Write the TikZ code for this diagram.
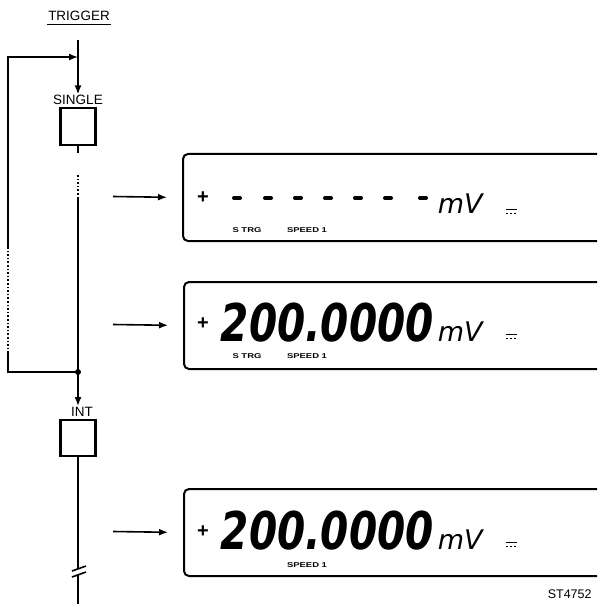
\documentclass[tikz,border=0pt]{standalone}
\usepackage{fontspec}
\setmainfont{Liberation Sans}
\newfontfamily\lcdfont{DejaVu Sans}[FakeStretch=0.78]
\newfontfamily\unitfont{DejaVu Sans}
\newfontfamily\annfont{Liberation Sans}[FakeStretch=1.35]
\usetikzlibrary{arrows.meta}

\begin{document}
\begin{tikzpicture}[x=1pt, y=-1pt, line width=1.6pt,
  feed/.style={-{Latex[length=9pt,width=7pt]}},
  keybox/.style={draw, line width=2.2pt, minimum width=35pt, minimum height=37pt, inner sep=0pt},
  keylbl/.style={font=\fontsize{13.5}{14}\selectfont, inner sep=0pt},
  display/.style={draw, line width=2pt, rounded corners=5pt, minimum width=460pt, minimum height=87pt, inner sep=0pt, anchor=north west},
  sign/.style={font=\fontsize{20}{20}\selectfont\bfseries, inner sep=0pt},
  digits/.style={font=\lcdfont\fontsize{52}{52}\selectfont\bfseries\itshape, inner sep=0pt, anchor=base west},
  unit/.style={font=\unitfont\fontsize{27}{27}\selectfont\itshape, inner sep=0pt, anchor=base west},
  annun/.style={font=\annfont\fontsize{7}{7}\selectfont\bfseries, inner sep=0pt}]
  \useasboundingbox (0,0) rectangle (597,604);
  \clip (0,0) rectangle (597,604);
  % trigger input and keys
  \node[keylbl] (trig) at (79,16) {TRIGGER};
  \draw[line width=1.2pt] ([yshift=-3pt]trig.south west) -- ([yshift=-3pt]trig.south east);
  \node[keylbl] (singlelbl) at (78,100) {SINGLE};
  \node[keybox] (single) at (78,126.5) {};
  \node[keylbl] (intlbl) at (82,411.5) {INT};
  \node[keybox, minimum height=36pt] (int) at (78,438) {};
  \coordinate (top) at (78,40);
  \coordinate (j) at (78,372);
  \draw[feed] (top) -- (single |- singlelbl.north);
  % feedback loop
  \coordinate (loopbot) at (8,372);
  \coordinate (looptop) at (8,57);
  \draw (j) -- (loopbot) -- (8,353);
  \draw[dotted] (8,353) -- (8,247);
  \draw[feed] (8,247) -- (looptop) -- (top |- looptop);
  % main line
  \draw (single.south) -- ++(0,7);
  \draw[dotted] (78,175) -- (78,197);
  \draw (78,197) -- (j);
  \fill (j) circle (3pt);
  \draw[feed] (j) -- (j |- intlbl.north);
  \draw (int.south) -- (78,569);
  \draw (72,571) -- (86,566) (72,577) -- (86,572);
  \draw (78,574) -- (78,604);
  % displays
  \node[display] (disp1) at (182,153) {};
  \node[display] (disp2) at (183,281) {};
  \node[display] (disp3) at (183,488) {};
  \coordinate (in1) at (113,196.5);
  \coordinate (in2) at (113,324.5);
  \coordinate (in3) at (113,531.5);
  \draw[feed, shorten >=15pt] (in1) -- (disp1.west);
  \draw[feed, shorten >=15pt] (in2) -- (disp2.west);
  \draw[feed, shorten >=15pt] (in3) -- (disp3.west);
  % display 1
  \node[sign] (sign1) at (203,198) {+};
  \foreach \x in {237,268,298,328,358,388,423}
    \draw[line width=4pt, line cap=round] (\x-3,198) -- (\x+3,198);
  \node[unit] (unit1) at (437,213) {mV};
  \draw[line width=1pt] (506,209) -- (517,209);
  \draw[line width=1pt, dash pattern=on 2pt off 2pt] (506,213) -- (517,213);
  \node[annun] (strg1) at (247,230) {S TRG};
  \node[annun] (speed1) at (307,230) {SPEED 1};
  % display 2
  \node[sign] (sign2) at (203,324) {+};
  \node[digits] (val2) at (220,341) {200.0000};
  \node[unit] (unit2) at (437,341) {mV};
  \draw[line width=1pt] (506,334) -- (517,334);
  \draw[line width=1pt, dash pattern=on 2pt off 2pt] (506,338) -- (517,338);
  \node[annun] (strg2) at (247,356) {S TRG};
  \node[annun] (speed2) at (307,356) {SPEED 1};
  % display 3
  \node[sign] (sign3) at (203,532) {+};
  \node[digits] (val3) at (220,549) {200.0000};
  \node[unit] (unit3) at (437,549) {mV};
  \draw[line width=1pt] (506,542) -- (517,542);
  \draw[line width=1pt, dash pattern=on 2pt off 2pt] (506,546) -- (517,546);
  \node[annun] (speed3) at (307,565) {SPEED 1};
  \node[keylbl, font=\fontsize{12.5}{13}\selectfont, anchor=north west] (ref) at (547,589) {ST4752};
\end{tikzpicture}
\end{document}
